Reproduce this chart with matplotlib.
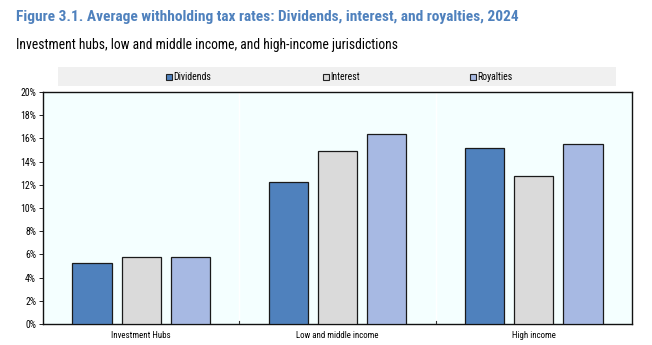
import numpy as np
import matplotlib
matplotlib.use("Agg")
import matplotlib.pyplot as plt
from matplotlib import font_manager
from matplotlib.patches import Rectangle
from matplotlib.ticker import FuncFormatter, MultipleLocator

groups = ["Investment Hubs", "Low and middle income", "High income"]
series = ["Dividends", "Interest", "Royalties"]
dividends = [5.3, 12.2, 15.2]
interest = [5.75, 14.9, 12.8]
royalties = [5.75, 16.35, 15.55]
colors = ["#4F81BD", "#DADADA", "#A7B9E3"]

# prefer a narrow sans if one is installed, else shrink the regular one
installed = {f.name for f in font_manager.fontManager.ttflist}
narrow = next((n for n in ["Liberation Sans Narrow", "Arial Narrow", "Roboto Condensed",
                           "Open Sans Condensed"] if n in installed), None)
if narrow:
    plt.rcParams["font.family"] = [narrow, "DejaVu Sans"]
    title_size, sub_size, xtick_size, ytick_size, leg_size = 11.1, 9.8, 6.4, 7, 7
else:
    plt.rcParams["font.family"] = ["Liberation Sans", "DejaVu Sans"]
    title_size, sub_size, xtick_size, ytick_size, leg_size = 9.6, 8.8, 6.3, 7, 7

fig = plt.figure(figsize=(6.52, 3.45), dpi=100)
ax = fig.add_axes([43 / 652, 1 - 324 / 345, 589 / 652, 232 / 345])
ax.set_facecolor("#F4FFFF")

x = np.arange(len(groups))
w = 0.2
for i, (vals, c) in enumerate(zip([dividends, interest, royalties], colors)):
    ax.bar(x + (i - 1) * 0.25, vals, w, color=c, edgecolor="#1a1a1a", linewidth=0.9, zorder=3)

ax.set_xlim(-0.5, len(groups) - 0.5)
ax.set_ylim(0, 20)
ax.yaxis.set_major_locator(MultipleLocator(2))
ax.yaxis.set_major_formatter(FuncFormatter(lambda v, _: f"{v:.0f}%"))
ax.set_xticks(x)
ax.set_xticklabels(groups)
ax.tick_params(axis="x", length=0, labelsize=xtick_size, pad=5)
ax.tick_params(axis="y", length=3, width=0.6, labelsize=ytick_size, pad=2)

# faint separators between groups plus short inward ticks at the base
for b in [0.5, 1.5]:
    ax.axvline(b, color="white", linewidth=1, zorder=1)
    ax.plot([b, b], [0, 0.3], color="#333333", linewidth=0.8, zorder=4)

for s in ax.spines.values():
    s.set_linewidth(1.0)
    s.set_color("#111111")

# legend strip
fig.patches.append(Rectangle((58 / 652, 1 - 86 / 345), 558 / 652, 19 / 345,
                             transform=fig.transFigure, facecolor="#F0F0F0",
                             edgecolor="none", zorder=0))
for name, c, px in zip(series, colors, [166, 323, 470]):
    fig.patches.append(Rectangle((px / 652, 1 - 79.5 / 345), 6 / 652, 6 / 345,
                                 transform=fig.transFigure, facecolor=c,
                                 edgecolor="#222222", linewidth=0.8))
    fig.text((px + 7) / 652, 1 - 76.5 / 345, name, fontsize=leg_size, va="center", ha="left")

fig.text(16 / 652, 1 - 17 / 345,
         "Figure 3.1. Average withholding tax rates: Dividends, interest, and royalties, 2024",
         fontsize=title_size, fontweight="bold", color="#4F81BD", va="center", ha="left")
fig.text(16 / 652, 1 - 45 / 345,
         "Investment hubs, low and middle income, and high-income jurisdictions",
         fontsize=sub_size, color="black", va="center", ha="left")

fig.savefig("out.png", dpi=100)
